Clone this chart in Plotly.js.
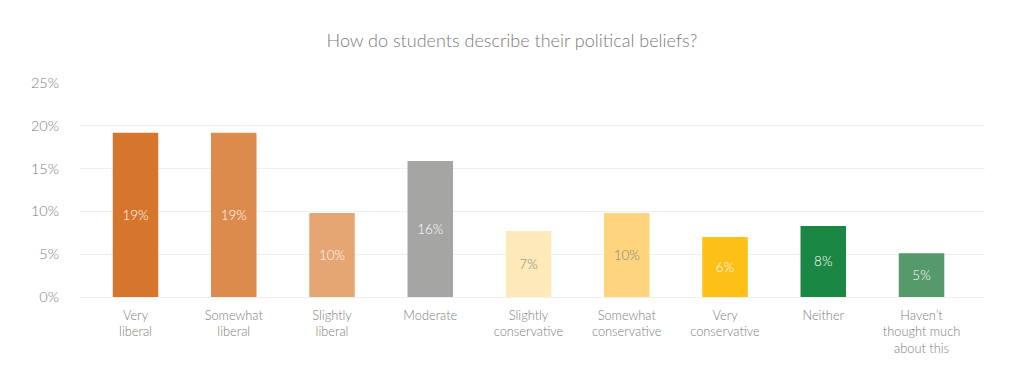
<!DOCTYPE html>
<html>
<head>
<meta charset="utf-8">
<script src="https://cdn.plot.ly/plotly-3.0.1.min.js"></script>
<style>html,body{margin:0;padding:0;background:#fff;}#chart{width:1024px;height:377px;}</style>
</head>
<body>
<div id="chart"></div>
<script>
const categories = ["Very<br>liberal", "Somewhat<br>liberal", "Slightly<br>liberal", "Moderate", "Slightly<br>conservative", "Somewhat<br>conservative", "Very<br>conservative", "Neither", "Haven’t<br>thought much<br>about this"];
const values = [19.2, 19.2, 9.8, 15.9, 7.7, 9.8, 7.0, 8.3, 5.1];
const valueLabels = ["19%", "19%", "10%", "16%", "7%", "10%", "6%", "8%", "5%"];
const barColors = ["#D6762C", "#DD8B4D", "#E6A673", "#A5A5A4", "#FEE9B8", "#FED47F", "#FCC016", "#1B8744", "#56996A"];
const labelColors = ["#ffffff", "#ffffff", "#ffffff", "#ffffff", "#858585", "#858585", "#ffffff", "#ffffff", "#ffffff"];
const yTicks = [0, 5, 10, 15, 20, 25];
const yTickText = ["0%", "5%", "10%", "15%", "20%", "25%"];

const font = "Lato, 'Open Sans', sans-serif";
const trace = {
  type: "bar",
  x: categories.map((c, i) => i),
  y: values,
  text: valueLabels,
  texttemplate: "%{text}",
  textposition: "inside",
  insidetextanchor: "middle",
  textangle: 0,
  insidetextfont: {family: font, size: 13.5, color: labelColors, weight: 300},
  marker: {color: barColors, line: {width: 0}},
  width: 0.463,
  hoverinfo: "skip"
};
const layout = {
  width: 1024, height: 377,
  margin: {l: 80, r: 39, t: 83, b: 80},
  paper_bgcolor: "#fff", plot_bgcolor: "#fff",
  showlegend: false,
  title: {text: "How do students describe their political beliefs?", x: 0.5, xanchor: "center", y: 0.893, yanchor: "middle",
          font: {family: font, size: 18, color: "#7a7a7a", weight: 300}},
  xaxis: {
    range: [-0.565, 8.646],
    tickvals: categories.map((c, i) => i),
    ticktext: categories,
    tickfont: {family: font, size: 12.8, color: "#7d7d7d", weight: 300},
    showgrid: false, zeroline: false, showline: false, ticks: "",
    ticklabelstandoff: 9,
    fixedrange: true
  },
  yaxis: {
    range: [0, 25],
    tickvals: yTicks, ticktext: yTickText,
    tickfont: {family: font, size: 14.5, color: "#7d7d7d", weight: 300},
    showgrid: true, gridcolor: "#efefef", gridwidth: 1,
    zeroline: true, zerolinecolor: "#efefef", zerolinewidth: 1,
    showline: false, ticks: "", ticklabelstandoff: 20,
    fixedrange: true
  },
  bargap: 0.5
};
Plotly.newPlot("chart", [trace], layout, {displayModeBar: false, staticPlot: true});
</script>
</body>
</html>
